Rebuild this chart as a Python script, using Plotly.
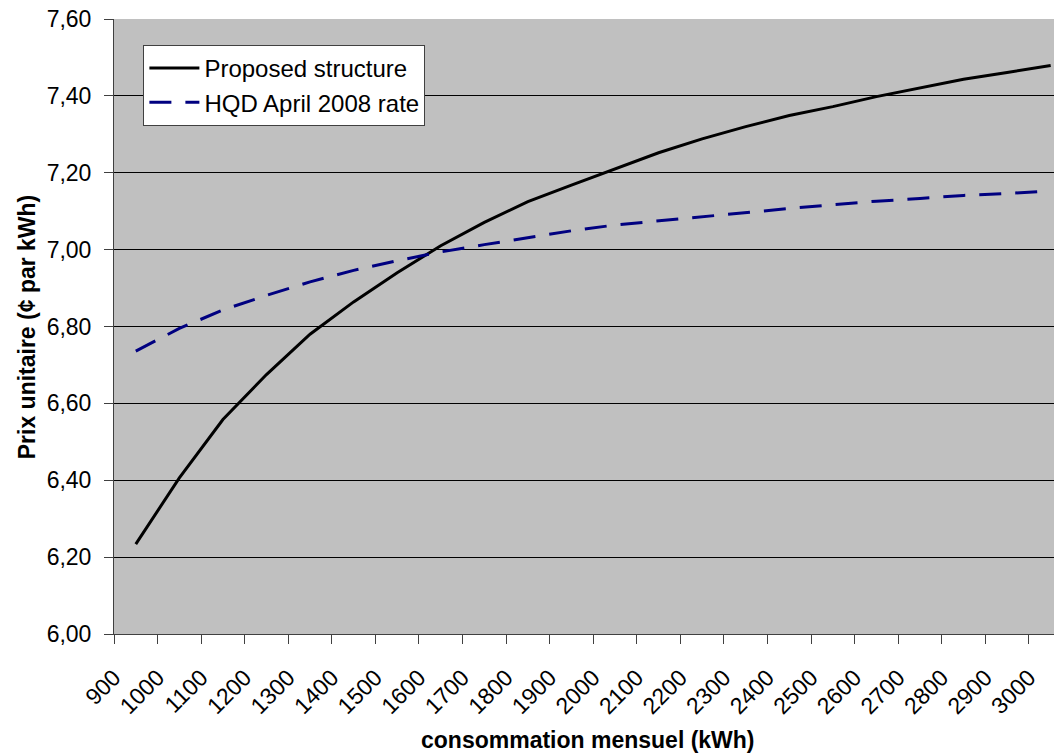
import plotly.graph_objects as go

consumption = [950, 1050, 1150, 1250, 1350, 1450, 1550, 1650, 1750, 1850, 1950,
               2050, 2150, 2250, 2350, 2450, 2550, 2650, 2750, 2850, 2950, 3050]
proposed = [6.234, 6.406, 6.558, 6.675, 6.780, 6.864, 6.940, 7.010, 7.071, 7.125, 7.168,
            7.211, 7.252, 7.288, 7.320, 7.349, 7.372, 7.398, 7.421, 7.443, 7.461, 7.479]
hqd_2008 = [6.736, 6.795, 6.843, 6.881, 6.916, 6.946, 6.971, 6.994, 7.013, 7.031, 7.049,
            7.064, 7.075, 7.086, 7.097, 7.107, 7.117, 7.126, 7.133, 7.141, 7.146, 7.153]

x_ticks = list(range(900, 3001, 100))
x_tick_labels = [str(v) for v in x_ticks]
y_ticks = [6.0, 6.2, 6.4, 6.6, 6.8, 7.0, 7.2, 7.4, 7.6]
y_tick_labels = ["6,00", "6,20", "6,40", "6,60", "6,80", "7,00", "7,20", "7,40", "7,60"]

FONT = "Liberation Sans, Arial, sans-serif"

fig = go.Figure()
fig.add_trace(go.Scatter(x=consumption, y=proposed, mode="lines",
                         name="Proposed structure",
                         line=dict(color="#000000", width=3)))
fig.add_trace(go.Scatter(x=consumption, y=hqd_2008, mode="lines",
                         name="HQD April 2008 rate",
                         line=dict(color="#000080", width=3, dash="22px,14px")))

# page body has an 8px margin: figure sized to fill the remaining window
fig.update_layout(
    width=1054, height=745,
    margin=dict(l=106, r=0, t=11, b=119, autoexpand=False),
    paper_bgcolor="white",
    plot_bgcolor="#C0C0C0",
    font=dict(family=FONT, size=23, color="#000000"),
    showlegend=True,
    legend=dict(x=0.031, y=0.958, xanchor="left", yanchor="top",
                bgcolor="white", bordercolor="#404040", borderwidth=1,
                font=dict(size=24), itemwidth=50, tracegroupgap=0),
    xaxis=dict(
        range=[900, 3076], automargin=False,
        tickmode="array", tickvals=x_ticks, ticktext=x_tick_labels,
        tickangle=-45, ticklabelstandoff=11, ticklabeloverflow="allow",
        ticks="outside", ticklen=9, tickcolor="#404040", tickwidth=1,
        showgrid=False, zeroline=False,
        showline=True, linecolor="#404040", linewidth=1,
    ),
    yaxis=dict(
        range=[6.0, 7.6], automargin=False,
        tickmode="array", tickvals=y_ticks, ticktext=y_tick_labels,
        ticklabelstandoff=8, ticklabeloverflow="allow",
        ticks="outside", ticklen=9, tickcolor="#404040", tickwidth=1,
        showgrid=True, gridcolor="#000000", gridwidth=1,
        zeroline=False,
        showline=True, linecolor="#404040", linewidth=1,
    ),
    annotations=[
        dict(text="<b>consommation mensuel (kWh)</b>", xref="paper", yref="paper",
             x=0.5, y=-0.172, xanchor="center", yanchor="middle",
             showarrow=False, font=dict(size=23)),
        dict(text="<b>Prix unitaire (¢ par kWh)</b>", xref="paper", yref="paper",
             x=-0.092, y=0.5, xanchor="center", yanchor="middle", textangle=-90,
             showarrow=False, font=dict(size=23)),
    ],
)

fig.write_html("out.html")
